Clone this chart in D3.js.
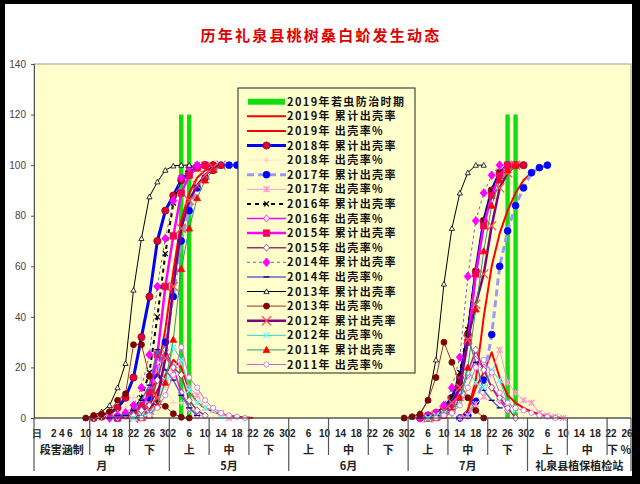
<!DOCTYPE html>
<html>
<head>
<meta charset="utf-8">
<script src="https://cdn.jsdelivr.net/npm/d3@7"></script>
<style>
  body { margin: 0; background: #000; }
  text { white-space: pre; }
</style>
</head>
<body>
<svg id="chart" width="640" height="484"></svg>
<script>
// category axis: one slot per 2 days, April → August
var dayLabels = [
  "日", "", "2", "4", "6", "", "10", "", "14", "", "18", "", "22", "", "26", "", "30",
  "2", "", "6", "", "10", "", "14", "", "18", "", "22", "", "26", "", "30",
  "2", "", "6", "", "10", "", "14", "", "18", "", "22", "", "26", "", "30",
  "2", "", "6", "", "10", "", "14", "", "18", "", "22", "", "26", "", "30",
  "2", "", "6", "", "10", "", "14", "", "18", "", "22", "", "26"
]
var dekadLabels = ["段害涵制", "中", "下", "上", "中", "下", "上", "中", "下", "上", "中", "下", "上", "中", "下 %"]
var dekadBreaks = [0, 7, 12, 17, 22, 27, 32, 37, 42, 47, 52, 57, 62, 67, 72, 75]
var monthLabels = ["月", "5月", "6月", "7月", "礼泉县植保植检站"]
var monthBreaks = [0, 17, 32, 47, 62, 75]
var yTicks = [0, 20, 40, 60, 80, 100, 120, 140]

// 2019 control period (slot index, height)
var ctrlSlots = [18, 19, 59, 60]
var ctrlValues = [120, 120, 120, 120]

// each series: [first slot, values] for spring and summer generation
var cum2019 = [[12, [0, 2, 7, 18, 35, 58, 78, 89, 95, 98, 99, 100]], [53, [0, 3, 15, 40, 60, 73, 82, 89, 94, 97, 99, 100]]]
var rate2019 = [[12, [0, 2, 5, 11, 17, 23, 20, 11, 6, 4, 2.5, 1.5, 1, 0.5, 0.3, 0]], [53, [0, 3, 12, 18, 26, 16, 9, 6, 4, 2.5, 1.5, 0.8, 0.3, 0]]]
var cum2018 = [[7, [0, 0.5, 2, 4, 8, 16, 32, 48, 70, 82, 88, 94, 97, 99, 100, 100]], [48, [0, 1, 2, 4, 8, 16, 33, 58, 78, 90, 97, 100, 100, 100]]]
var rate2018 = [[7, [0, 0.5, 1.5, 2, 4, 8, 16, 16, 22, 12, 6, 6, 3, 2, 1, 0]], [48, [0, 1, 1, 2, 4, 8, 17, 25, 20, 12, 7, 3, 0, 0]]]
var cum2017 = [[10, [0, 1, 2, 4, 8, 16, 30, 48, 70, 82, 91, 95, 98, 100, 100, 100]], [53, [0, 1, 6.5, 15, 33, 60, 74, 84, 91, 97, 99, 100]]]
var rate2017 = [[10, [0, 1, 1, 2, 4, 8, 14, 18, 22, 12, 9, 4, 3, 2, 0]], [53, [0, 1, 5.5, 8.5, 18, 27, 14, 10, 7, 6, 2, 1, 0.5, 0]]]
var cum2016 = [[10, [0, 1, 3, 8, 18, 40, 65, 85, 95, 99, 100]], [49, [0, 1, 3, 8, 18, 35, 58, 78, 90, 97, 100]]]
var rate2016 = [[10, [0, 1, 2, 5, 10, 22, 25, 20, 10, 4, 1]], [49, [0, 1, 2, 5, 10, 17, 23, 20, 12, 7, 3]]]
var cum2015 = [[10, [0, 1, 2, 5, 10, 25, 52, 72, 89, 96, 99, 100]], [49, [0, 1, 2, 4, 12, 30, 57, 76, 88, 96, 100, 100]]]
var rate2015 = [[10, [0, 1, 1, 3, 5, 15, 27, 20, 17, 7, 3, 1]], [49, [0, 1, 1, 2, 8, 18, 27, 19, 12, 8, 4, 0]]]
var cum2014 = [[9, [0, 1, 2, 5, 12, 25, 52, 71, 86, 95, 99, 100]], [48, [0, 1, 2, 5, 12, 24, 56, 78, 89, 96, 100]]]
var rate2014 = [[9, [0, 1, 1, 3, 7, 13, 27, 19, 15, 9, 4, 1]], [48, [0, 1, 1, 3, 7, 12, 32, 22, 11, 7, 4]]]
var cum2013 = [[6, [0, 1, 2.5, 5, 12, 21.6, 50.6, 71, 87.5, 93.4, 98, 99.7, 100, 100]], [46, [0, 0.5, 1.8, 7, 23, 53, 75, 89, 97, 100, 100]]]
var rate2013 = [[6, [0, 1, 1.5, 2.5, 7, 9.6, 29, 29, 16.5, 6, 4.6, 1.7, 0.3, 0]], [46, [0, 0.5, 1.5, 7, 16, 30, 22, 14, 8, 3, 0]]]
var cum2012 = [[12, [0, 1, 3, 8, 23.6, 52, 75, 86, 92, 96, 99, 100]], [49, [0, 1, 3, 6, 12, 31, 45, 57, 76, 91, 97, 100]]]
var rate2012 = [[12, [0, 1, 2, 5, 15, 28, 23, 11, 6, 4, 3, 1]], [49, [0, 1, 2, 3, 6, 19, 14, 12, 19, 15, 6, 3]]]
var cum2011 = [[13, [0, 1, 5, 14, 31, 59, 75, 87, 94, 98, 100]], [50, [0, 1, 3, 8, 20, 43, 66, 84, 94, 98, 100]]]
var rate2011 = [[13, [0, 1, 4, 9, 17, 28, 16, 12, 7, 4, 2, 1, 0.5, 0]], [50, [0, 1, 2, 5, 12, 20, 23, 18, 10, 6, 4, 3, 2, 1, 0.5, 0]]]

var series = [
  { name: "2019年 累计出壳率", data: cum2019, color: "#ff0000", width: 2 },
  { name: "2019年 出壳率%", data: rate2019, color: "#ff0000", width: 2 },
  { name: "2018年 累计出壳率", data: cum2018, color: "#0000ff", width: 3, marker: "circle", size: 3.6, fill: "#dd0033", stroke: "#990033" },
  { name: "2018年 出壳率%", data: rate2018, color: "#ffe0e0", width: 1, marker: "plus", size: 3, fill: "none", stroke: "#ffcccc" },
  { name: "2017年 累计出壳率", data: cum2017, color: "#9999ff", width: 3, dash: "7,4", marker: "circle", size: 3.4, fill: "#0000ff", stroke: "#0000ff" },
  { name: "2017年 出壳率%", data: rate2017, color: "#ff99cc", width: 1, marker: "star", size: 3, fill: "none", stroke: "#ff99cc" },
  { name: "2016年 累计出壳率", data: cum2016, color: "#000000", width: 2, dash: "4,4", marker: "x", size: 2.5, fill: "none", stroke: "#000000" },
  { name: "2016年 出壳率%", data: rate2016, color: "#ff00ff", width: 1.5, marker: "diamond", size: 3, fill: "#ffffff", stroke: "#ff00ff" },
  { name: "2015年 累计出壳率", data: cum2015, color: "#ff00ff", width: 2.5, marker: "square", size: 3.2, fill: "#ee0055", stroke: "#ee0055" },
  { name: "2015年 出壳率%", data: rate2015, color: "#993366", width: 1.5, marker: "diamond", size: 3, fill: "#ffffff", stroke: "#993366" },
  { name: "2014年 累计出壳率", data: cum2014, color: "#6666cc", width: 1, dash: "3,3", marker: "diamond", size: 3.6, fill: "#ff00ff", stroke: "#ff00ff" },
  { name: "2014年 出壳率%", data: rate2014, color: "#6666cc", width: 1.5, marker: "dash", size: 3, fill: "none", stroke: "#000080" },
  { name: "2013年 累计出壳率", data: cum2013, color: "#000000", width: 1, marker: "triangle", size: 2.6, fill: "#ffffff", stroke: "#000000" },
  { name: "2013年 出壳率%", data: rate2013, color: "#993333", width: 1, marker: "circle", size: 3, fill: "#800000", stroke: "#800000" },
  { name: "2012年 累计出壳率", data: cum2012, color: "#800080", width: 2.5, marker: "x", size: 4.5, fill: "none", stroke: "#ff5050" },
  { name: "2012年 出壳率%", data: rate2012, color: "#33cccc", width: 1, marker: "x", size: 3, fill: "none", stroke: "#66ffff" },
  { name: "2011年 累计出壳率", data: cum2011, color: "#339966", width: 1, marker: "triangle", size: 3.4, fill: "#ff0000", stroke: "#ff0000" },
  { name: "2011年 出壳率%", data: rate2011, color: "#cc66cc", width: 1, marker: "circle", size: 2.6, fill: "#ffffff", stroke: "#cc66cc" }
]

var svg = d3.select("#chart")
svg.append("rect").attr("x", 5).attr("y", 4).attr("width", 627).attr("height", 472).attr("fill", "#ffffff")

var x = d3.scaleBand().domain(d3.range(dayLabels.length)).range([34, 631])
var y = d3.scaleLinear().domain([0, 140]).range([418, 64])
var cx = function (i) { return x(i) + x.bandwidth() / 2 }

// title
svg.append("text")
  .attr("x", 321).attr("y", 41)
  .attr("text-anchor", "middle")
  .attr("font-family", "Noto Sans CJK SC")
  .attr("font-size", 15).attr("font-weight", "bold")
  .attr("letter-spacing", 2.2)
  .attr("fill", "#e00000")
  .text("历年礼泉县桃树桑白蚧发生动态")

// plot area
svg.append("rect")
  .attr("x", 34).attr("y", 64).attr("width", 597).attr("height", 354)
  .attr("fill", "#ffffcc").attr("stroke", "#a0a090").attr("stroke-width", 1)

var yAxis = svg.append("g")
  .attr("transform", "translate(34,0)")
  .call(d3.axisLeft(y).tickValues(yTicks).tickSize(3).tickPadding(5))
yAxis.select(".domain").attr("stroke", "#555")
yAxis.selectAll("line").attr("stroke", "#555")
yAxis.selectAll("text").attr("font-family", "Liberation Sans").attr("font-size", 10).attr("fill", "#444")

// control period bars
svg.selectAll(".ctrl")
  .data(ctrlSlots)
  .enter()
  .append("rect")
  .attr("x", function (d) { return cx(d) - 2.2 })
  .attr("width", 4.4)
  .attr("y", function (d, k) { return y(ctrlValues[k]) })
  .attr("height", function (d, k) { return y(0) - y(ctrlValues[k]) })
  .attr("fill", "#11dd11")

function markerPath(type, s) {
  switch (type) {
    case "circle":
      return d3.symbol(d3.symbolCircle, Math.PI * s * s)()
    case "square":
      return "M" + -s + "," + -s + "H" + s + "V" + s + "H" + -s + "Z"
    case "diamond":
      return "M0," + -s * 1.2 + "L" + s + ",0L0," + s * 1.2 + "L" + -s + ",0Z"
    case "triangle":
      return "M0," + -s + "L" + s + "," + s * 0.8 + "L" + -s + "," + s * 0.8 + "Z"
    case "plus":
      return "M" + -s + ",0H" + s + "M0," + -s + "V" + s
    case "x":
      return "M" + -s + "," + -s + "L" + s + "," + s + "M" + -s + "," + s + "L" + s + "," + -s
    case "star":
      return "M" + -s + "," + -s + "L" + s + "," + s + "M" + -s + "," + s + "L" + s + "," + -s + "M0," + -s + "V" + s
    case "dash":
      return "M" + -s + ",0H" + s
  }
}

var line = d3.line()
  .x(function (d) { return cx(d[0]) })
  .y(function (d) { return y(d[1]) })

var plot = svg.append("g")
series.forEach(function (s) {
  var g = plot.append("g")
  s.data.forEach(function (seg) {
    var pts = seg[1].map(function (v, k) { return [seg[0] + k, v] })
    g.append("path")
      .attr("d", line(pts))
      .attr("fill", "none")
      .attr("stroke", s.color)
      .attr("stroke-width", s.width)
      .attr("stroke-dasharray", s.dash || null)
      .attr("stroke-linejoin", "round")
    if (s.marker) {
      g.selectAll(null)
        .data(pts)
        .enter()
        .append("path")
        .attr("transform", function (d) { return "translate(" + cx(d[0]) + "," + y(d[1]) + ")" })
        .attr("d", markerPath(s.marker, s.size))
        .attr("fill", s.fill)
        .attr("stroke", s.stroke)
        .attr("stroke-width", s.fill === "none" ? 1.3 : 0.8)
    }
  })
})

// category axis
svg.append("line").attr("x1", 34).attr("x2", 631).attr("y1", 418).attr("y2", 418).attr("stroke", "#333")
var axisFont = function (sel, size) {
  return sel.attr("font-family", "Noto Sans CJK SC").attr("font-size", size || 11).attr("font-weight", "bold")
    .attr("fill", "#222").attr("text-anchor", "middle")
}
svg.selectAll(".day")
  .data(dayLabels)
  .enter()
  .append("text")
  .attr("x", function (d, i) { return i === 0 ? 37 : cx(i) })
  .attr("y", 437)
  .attr("font-family", "Liberation Sans").attr("font-size", 10).attr("font-weight", "bold")
  .attr("fill", "#222").attr("text-anchor", "middle")
  .text(function (d) { return d })

dekadBreaks.forEach(function (b) {
  var isMonth = monthBreaks.indexOf(b) >= 0
  var xx = b < dayLabels.length ? x(b) : x.range()[1]
  svg.append("line")
    .attr("x1", xx).attr("x2", xx)
    .attr("y1", 418).attr("y2", isMonth ? 471 : 455)
    .attr("stroke", "#555").attr("stroke-width", 1.2)
})
dekadLabels.forEach(function (t, k) {
  var a = x(dekadBreaks[k])
  var b = dekadBreaks[k + 1] < dayLabels.length ? x(dekadBreaks[k + 1]) : x.range()[1]
  svg.append("text").attr("x", (a + b) / 2).attr("y", 454).text(t).call(axisFont, 11)
})
monthLabels.forEach(function (t, k) {
  var a = x(monthBreaks[k])
  var b = monthBreaks[k + 1] < dayLabels.length ? x(monthBreaks[k + 1]) : x.range()[1]
  svg.append("text").attr("x", (a + b) / 2).attr("y", 470).text(t).call(axisFont, 11)
})

// legend
var lg = svg.append("g")
lg.append("rect")
  .attr("x", 238).attr("y", 88).attr("width", 177).attr("height", 285)
  .attr("fill", "#ffffcc").attr("stroke", "#222").attr("stroke-width", 1)
var legendItems = [{ name: "2019年若虫防治时期", ctrl: true }].concat(series)
legendItems.forEach(function (s, k) {
  var ly = 101.7 + k * 14.6
  if (s.ctrl) {
    lg.append("rect").attr("x", 248).attr("y", ly - 3).attr("width", 37).attr("height", 6).attr("fill", "#11dd11")
  } else {
    lg.append("line")
      .attr("x1", 247).attr("x2", 286).attr("y1", ly).attr("y2", ly)
      .attr("stroke", s.color).attr("stroke-width", s.width)
      .attr("stroke-dasharray", s.dash || null)
    if (s.marker) {
      lg.append("path")
        .attr("transform", "translate(266.5," + ly + ")")
        .attr("d", markerPath(s.marker, s.size))
        .attr("fill", s.fill).attr("stroke", s.stroke)
        .attr("stroke-width", s.fill === "none" ? 1.3 : 0.8)
    }
  }
  lg.append("text")
    .attr("x", 287).attr("y", ly + 4)
    .attr("font-family", "Noto Sans CJK SC")
    .attr("font-size", 11).attr("font-weight", "bold")
    .attr("letter-spacing", 1.4)
    .attr("fill", "#111")
    .text(s.name)
})
</script>
</body>
</html>
